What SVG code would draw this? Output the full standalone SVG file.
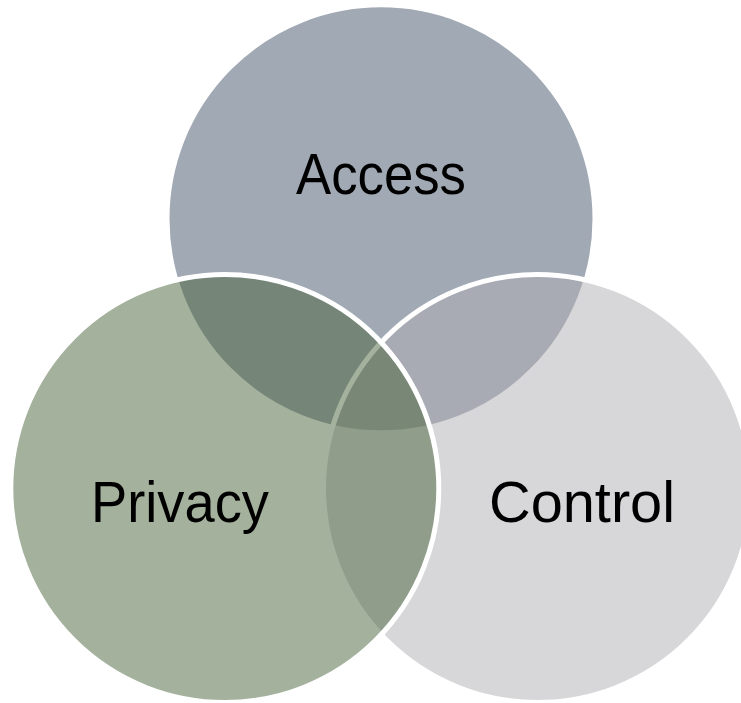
<svg xmlns="http://www.w3.org/2000/svg" width="741" height="703" viewBox="0 0 741 703">
  <style>
    .c { stroke: #ffffff; stroke-width: 5; fill-opacity: 0.5; }
    .t { font-family: "Liberation Sans", Arial, sans-serif; font-size: 57px; fill: #000000; text-anchor: middle; }
  </style>
  <rect x="0" y="0" width="741" height="703" fill="#ffffff"/>
  <g id="access">
    <circle class="c" cx="381" cy="218.8" r="214" fill="#44546A"/>
    <text class="t" x="381" y="194.3" textLength="170" lengthAdjust="spacingAndGlyphs">Access</text>
  </g>
  <g id="control">
    <circle class="c" cx="537.5" cy="488.5" r="214" fill="#AFADB1"/>
    <text class="t" x="582" y="521.7" textLength="186" lengthAdjust="spacingAndGlyphs">Control</text>
  </g>
  <g id="privacy">
    <circle class="c" cx="224.8" cy="488.5" r="214" fill="#49633B"/>
    <text class="t" x="180" y="521.7" textLength="178" lengthAdjust="spacingAndGlyphs">Privacy</text>
  </g>
</svg>
